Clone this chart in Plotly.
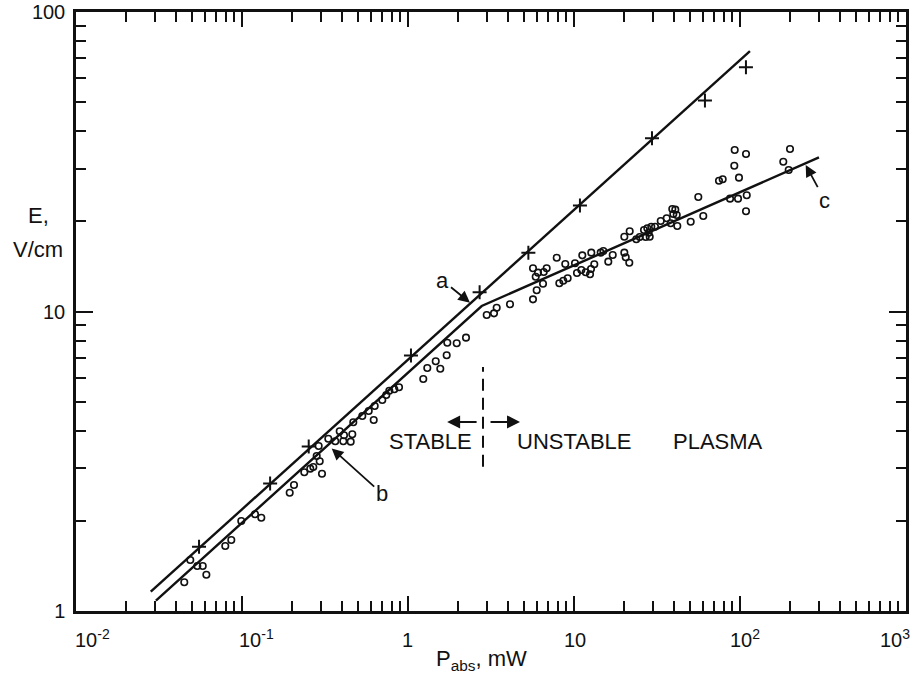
import numpy as np
import plotly.graph_objects as go

# ---- data (P_abs in mW, E in V/cm) ----
line_a_P = [0.0282, 114.8]
line_a_E = [1.16, 74.0]
line_bc_P = [0.0303, 2.78, 299.0]
line_bc_E = [1.083, 10.43, 32.7]

plus_P = [0.0551, 0.1477, 0.2523, 1.042, 2.70, 5.31, 10.86, 29.5, 61.5, 108.6]
plus_E = [1.64, 2.666, 3.54, 7.13, 11.6, 15.7, 22.6, 37.9, 50.6, 65.4]

circ_P = [0.0449, 0.0488, 0.0538, 0.0580, 0.0610, 0.0793, 0.0862, 0.0990, 0.1198, 0.1307,
          0.1938, 0.2057, 0.2373, 0.2578, 0.2689, 0.3033, 0.2938, 0.2818, 0.2897, 0.3311,
          0.3878, 0.4116, 0.3648, 0.4076, 0.4516, 0.4618, 0.4682, 0.5305, 0.580, 0.6215,
          0.630, 0.700, 0.740, 0.7715, 0.827, 0.883, 1.236, 1.307, 1.469, 1.565,
          1.710, 1.725, 1.965, 2.236, 2.980, 3.297, 3.422, 4.116, 5.662, 5.96,
          6.507, 5.88, 6.07, 6.57, 6.845, 5.662, 7.87, 8.16, 8.62, 9.16,
          8.86, 10.14, 10.42, 11.22, 11.07, 11.76, 12.49, 12.66, 13.25, 12.71,
          14.48, 15.02, 16.09, 17.11, 20.10, 20.49, 21.53, 20.10, 21.65, 23.73,
          24.88, 26.41, 27.65, 28.18, 27.04, 28.58, 29.22, 30.76, 33.30, 36.17,
          38.24, 39.65, 40.76, 39.10, 41.57, 41.91, 50.47, 60.09, 56.09, 74.71,
          78.65, 92.9, 108.7, 92.4, 98.6, 87.1, 97.3, 109.8, 108.7, 182.3,
          196.5, 200.1]
circ_E = [1.247, 1.480, 1.413, 1.413, 1.322, 1.648, 1.726, 1.998, 2.103, 2.049,
          2.483, 2.634, 2.905, 2.987, 3.026, 2.873, 3.161, 3.292, 3.556, 3.761,
          3.981, 3.860, 3.687, 3.687, 3.676, 3.890, 4.266, 4.478, 4.654, 4.343,
          4.835, 5.064, 5.262, 5.440, 5.498, 5.584, 5.95, 6.477, 6.818, 6.442,
          7.141, 7.866, 7.830, 8.18, 9.73, 9.86, 10.29, 10.57, 10.98, 11.77,
          12.38, 13.07, 13.48, 13.55, 13.94, 13.94, 15.12, 12.42, 12.67, 12.91,
          14.41, 14.49, 13.45, 15.40, 13.76, 13.52, 13.31, 13.87, 14.38, 15.72,
          15.72, 15.92, 14.67, 15.44, 15.72, 15.17, 14.55, 17.77, 18.53, 17.42,
          17.73, 18.71, 18.96, 18.33, 17.73, 17.77, 19.19, 19.19, 20.05, 20.47,
          19.70, 21.16, 21.88, 21.99, 21.00, 19.30, 19.94, 20.84, 24.12, 27.34,
          27.64, 34.61, 33.57, 30.68, 27.98, 23.81, 23.81, 24.43, 21.61, 31.64,
          29.69, 34.88]

# stable / unstable boundary
boundary_P = [2.83, 2.83]
boundary_E = [3.03, 6.53]

x_tick_vals = [0.01, 0.1, 1, 10, 100, 1000]
x_tick_text = ["10<sup>-2</sup>", "10<sup>-1</sup>", "1", "10", "10<sup>2</sup>", "10<sup>3</sup>"]
x_tick_shift = [16, 14, -1, 1, 5, -11]
y_tick_vals = [1, 10, 100]
y_tick_text = ["1", "10", "100"]

# curve labels: (text, P, E at arrow tip, pixel offset of text)
curve_labels = [("a", 2.363, 10.70, -27, -22),
                ("b", 0.347, 3.49, 50, 45),
                ("c", 248.8, 30.84, 19, 35)]

FONT = "Liberation Sans"
BLACK = "#111111"

fig = go.Figure()
fig.add_trace(go.Scatter(x=line_a_P, y=line_a_E, mode="lines",
                         line=dict(color=BLACK, width=2.4), showlegend=False))
fig.add_trace(go.Scatter(x=line_bc_P, y=line_bc_E, mode="lines",
                         line=dict(color=BLACK, width=2.4), showlegend=False))
fig.add_trace(go.Scatter(x=plus_P, y=plus_E, mode="markers",
                         marker=dict(symbol="cross-thin-open", size=10, color=BLACK,
                                     line=dict(color=BLACK, width=2)),
                         showlegend=False))
fig.add_trace(go.Scatter(x=circ_P, y=circ_E, mode="markers",
                         marker=dict(symbol="circle-open", size=6.5, color=BLACK,
                                     line=dict(color=BLACK, width=1.6)),
                         showlegend=False))
fig.add_trace(go.Scatter(x=boundary_P, y=boundary_E, mode="lines",
                         line=dict(color=BLACK, width=2, dash="12px,7px"),
                         showlegend=False))

minor_vals = [m * 10.0 ** d for d in range(-2, 3) for m in range(2, 10)]
minor_y = [m * 10.0 ** d for d in range(0, 2) for m in range(2, 10)]

axis_common = dict(type="log", showline=True, linecolor=BLACK, linewidth=2.5,
                   mirror="allticks", ticks="inside", tickwidth=2,
                   tickcolor=BLACK, showgrid=False, zeroline=False, automargin=False)

fig.update_xaxes(range=[-2, 3], tickvals=x_tick_vals, showticklabels=False,
                 ticklen=15,
                 minor=dict(ticks="inside", ticklen=10, tickwidth=2, tickcolor=BLACK,
                            tickvals=minor_vals, showgrid=False),
                 **axis_common)
fig.update_yaxes(range=[0, 2], tickvals=y_tick_vals, ticktext=y_tick_text,
                 ticklen=17, ticklabelstandoff=4,
                 tickfont=dict(family=FONT, size=20, color=BLACK),
                 minor=dict(ticks="inside", ticklen=10, tickwidth=2, tickcolor=BLACK,
                            tickvals=minor_y, showgrid=False),
                 **axis_common)

ann = []
for v, t, s in zip(x_tick_vals, x_tick_text, x_tick_shift):
    ann.append(dict(x=np.log10(v), y=0, xref="x", yref="paper", text=t,
                    showarrow=False, xanchor="center", yanchor="bottom",
                    xshift=s, yshift=-42,
                    font=dict(family=FONT, size=20, color=BLACK)))

for t, P, E, ax, ay in curve_labels:
    ann.append(dict(x=np.log10(P), y=np.log10(E), xref="x", yref="y", text=t,
                    showarrow=True, arrowhead=2, arrowsize=1.3, arrowwidth=1.8,
                    arrowcolor=BLACK, ax=ax, ay=ay,
                    font=dict(family=FONT, size=22, color=BLACK)))

# stable / unstable labels and arrows
ann.append(dict(x=np.log10(1.366), y=np.log10(3.695), xref="x", yref="y",
                text="STABLE", showarrow=False, xanchor="center",
                font=dict(family=FONT, size=22, color=BLACK)))
ann.append(dict(x=np.log10(4.41), y=np.log10(3.695), xref="x", yref="y",
                text="UNSTABLE", showarrow=False, xanchor="left",
                font=dict(family=FONT, size=22, color=BLACK)))
ann.append(dict(x=np.log10(141.6), y=np.log10(3.695), xref="x", yref="y",
                text="PLASMA", showarrow=False, xanchor="right",
                font=dict(family=FONT, size=22, color=BLACK)))
ann.append(dict(x=np.log10(1.72), y=np.log10(4.28), xref="x", yref="y", text="",
                showarrow=True, arrowhead=2, arrowsize=1.3, arrowwidth=2,
                arrowcolor=BLACK, ax=31, ay=0))
ann.append(dict(x=np.log10(4.73), y=np.log10(4.28), xref="x", yref="y", text="",
                showarrow=True, arrowhead=2, arrowsize=1.3, arrowwidth=2,
                arrowcolor=BLACK, ax=-31, ay=0))

# axis titles
ann.append(dict(x=-0.045, y=(611 - 216) / 599, xref="paper", yref="paper", text="E,",
                showarrow=False, xanchor="center",
                font=dict(family=FONT, size=22, color=BLACK)))
ann.append(dict(x=-0.046, y=(611 - 250) / 599, xref="paper", yref="paper", text="V/cm",
                showarrow=False, xanchor="center",
                font=dict(family=FONT, size=22, color=BLACK)))
ann.append(dict(x=(481 - 76) / 830, y=-0.055, xref="paper", yref="paper",
                text="P<sub>abs</sub>, mW", showarrow=False, xanchor="center",
                yanchor="top", font=dict(family=FONT, size=22, color=BLACK)))

fig.update_layout(width=911, height=675,
                  margin=dict(l=76, r=5, t=12, b=64),
                  paper_bgcolor="white", plot_bgcolor="white",
                  showlegend=False, annotations=ann)

fig.write_html("out.html", config={"displayModeBar": False},
               post_script="document.body.style.margin='0';document.body.style.overflow='hidden';")
